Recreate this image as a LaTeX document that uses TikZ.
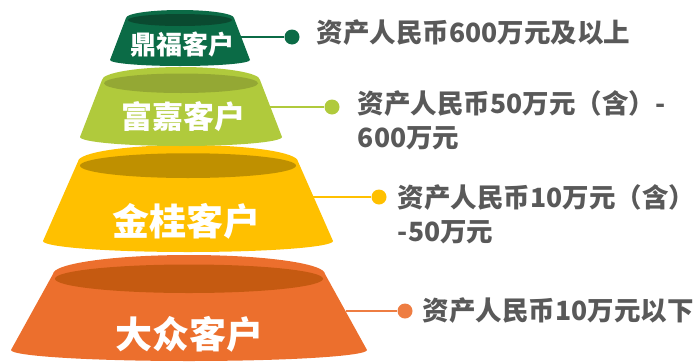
\documentclass[tikz,border=0pt]{standalone}
\usepackage{fontspec}
\setmainfont{Noto Sans CJK SC}
\usetikzlibrary{positioning}

\definecolor{dingGreen}{HTML}{0B6B46}
\definecolor{dingDark}{HTML}{0A4A30}
\definecolor{fuGreen}{HTML}{B0CA3C}
\definecolor{fuDark}{HTML}{94A834}
\definecolor{jinGold}{HTML}{FFC000}
\definecolor{jinDark}{HTML}{BF9000}
\definecolor{daOrange}{HTML}{EC6F2D}
\definecolor{daDark}{HTML}{C55A11}
\definecolor{noteGray}{HTML}{595959}

% one tier: cx, top y, top rx, top ry, bottom y, bottom rx, bottom ry, body, inner
\newcommand\drawtier[9]{%
  \fill[#8] ({#1-#3},{-#2}) -- ({#1-#6},{-#5})
    arc[start angle=180,end angle=360,x radius=#6pt,y radius=#7pt]
    -- ({#1+#3},{-#2})
    arc[start angle=0,end angle=180,x radius=#3pt,y radius=#4pt] -- cycle;
  \fill[#9] (#1,{-#2-0.25*#4}) ellipse[x radius={(#3-2)*1pt},y radius={0.75*#4*1pt}];
}

\tikzset{
  tiertext/.style={text=white, inner sep=0pt, font=\bfseries\fontsize{#1}{#1}\selectfont},
  dot/.style={circle, fill=#1, minimum size=15pt, inner sep=0pt},
  wire/.style={draw=#1, line width=2pt},
  note/.style={text=noteGray, inner sep=0pt, align=left,
    font=\bfseries\fontsize{26.5}{34}\selectfont},
}

\begin{document}
\begin{tikzpicture}[x=1pt,y=1pt]
  \useasboundingbox (0,0) rectangle (696,-362);

  % tiers, bottom first
  \drawtier{189}{274}{136}{19}{350}{178}{11}{daOrange}{daDark}
  \drawtier{188}{161.5}{110}{16.5}{241}{145}{11}{jinGold}{jinDark}
  \drawtier{181}{80}{79}{13}{137}{101}{9}{fuGreen}{fuDark}
  \drawtier{180}{18}{54}{8}{60}{70}{6}{dingGreen}{dingDark}

  \node[tiertext=26] (ding) at (182,-45) {鼎福客户};
  \node[tiertext=31] (fu)   at (183,-117) {富嘉客户};
  \node[tiertext=37] (jin)  at (186,-221) {金桂客户};
  \node[tiertext=37] (da)   at (189,-334) {大众客户};

  % connectors
  \coordinate (e1) at (241,-37);
  \coordinate (e2) at (270,-107);
  \coordinate (e3) at (313,-197);
  \coordinate (e4) at (346,-311);
  \node[dot=dingGreen] (d1) at (292,-37) {};
  \node[dot=fuGreen]   (d2) at (332,-107) {};
  \node[dot=jinGold]   (d3) at (379,-197) {};
  \node[dot=daOrange!90!white] (d4) at (405,-311) {};
  \draw[wire=dingGreen] (e1) -- (d1);
  \draw[wire=fuGreen]   (e2) -- (d2);
  \draw[wire=jinGold]   (e3) -- (d3);
  \draw[wire=daOrange!90!white] (e4) -- (d4);

  \node[note, right=17pt of d1, yshift=4pt] (t1) {资产人民币600万元及以上};
  \node[note, right=18pt of d2, yshift=-13pt] (t2) {资产人民币50万元（含）-\\600万元};
  \node[note, right=11pt of d3, yshift=-17pt] (t3) {资产人民币10万元（含）\\-50万元};
  \node[note, right=10pt of d4] (t4) {资产人民币10万元以下};
\end{tikzpicture}
\end{document}
